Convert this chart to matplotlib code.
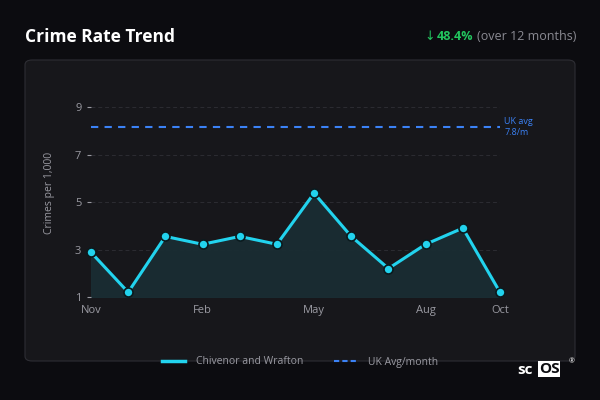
import matplotlib
matplotlib.use("Agg")
import matplotlib.pyplot as plt
from matplotlib.patches import FancyBboxPatch
from matplotlib.lines import Line2D

plt.rcParams['font.family'] = ['Open Sans', 'DejaVu Sans']

months = ["Nov", "Dec", "Jan", "Feb", "Mar", "Apr", "May", "Jun", "Jul", "Aug", "Sep", "Oct"]
rate = [2.88, 1.2, 3.55, 3.22, 3.55, 3.22, 5.37, 3.55, 2.2, 3.22, 3.9, 1.2]
uk_avg = 8.15
shown_ticks = ["Nov", "Feb", "May", "Aug", "Oct"]
y_ticks = [1, 3, 5, 7, 9]

bg = "#0c0c10"
card = "#17171b"
grey = "#9a9aa2"
cyan = "#22d3ee"
blue = "#3b82f6"

fig = plt.figure(figsize=(6, 4), dpi=100, facecolor=bg)

# card background
panel = FancyBboxPatch((25 / 600, 1 - 361 / 400), 550 / 600, 301 / 400,
                       boxstyle="round,pad=0,rounding_size=0.012",
                       transform=fig.transFigure, facecolor=card,
                       edgecolor="#2e2e34", linewidth=0.8, zorder=-5)
fig.patches.append(panel)

ax = fig.add_axes([91 / 600, 1 - 297 / 400, 409 / 600, 209 / 400])
ax.set_facecolor("none")
x = list(range(len(months)))

ax.fill_between(x, rate, 1, color="#1a2d33", alpha=0.95, zorder=1)
ax.plot(x, rate, color=cyan, linewidth=2.2, zorder=3,
        marker="o", markersize=6.5, markerfacecolor=cyan,
        markeredgecolor="#0b1a1e", markeredgewidth=1.2, clip_on=False)
ax.plot([x[0], x[-1]], [uk_avg, uk_avg], color=blue, linewidth=1.5,
        linestyle=(0, (3.5, 3)), zorder=2)
ax.text(x[-1] + 0.12, uk_avg, "UK avg\n7.8/m", color=blue, fontsize=6.5,
        va="center", ha="left", linespacing=1.2)

ax.set_xlim(x[0], x[-1])
ax.set_ylim(1, 9.8)
ax.set_yticks(y_ticks)
ax.set_xticks([months.index(m) for m in shown_ticks])
ax.set_xticklabels(shown_ticks)
for yv in y_ticks:
    ax.axhline(yv, color="#2c2c32", linewidth=0.7, linestyle=(0, (4, 3)), zorder=0)

ax.tick_params(axis="y", colors=grey, labelsize=8, length=3, width=0.8, pad=4)
ax.tick_params(axis="x", colors=grey, labelsize=8, length=0, pad=6)
for s in ax.spines.values():
    s.set_visible(False)
ax.set_ylabel("Crimes per 1,000", color=grey, fontsize=7.5, labelpad=14)

# header
fig.text(25 / 600, 1 - 37 / 400, "Crime Rate Trend", color="white",
         fontsize=12.5, fontweight="bold", va="center", ha="left")
t2 = fig.text(576 / 600, 1 - 37 / 400, "(over 12 months)", color="#8a8a92",
              fontsize=9, va="center", ha="right")
fig.canvas.draw()
bb = t2.get_window_extent()
t1 = fig.text((bb.x0 - 3) / 600, 1 - 37 / 400, "48.4%", color="#22c55e",
              fontsize=9, fontweight="bold", va="center", ha="right")
bb1 = t1.get_window_extent(fig.canvas.get_renderer())
fig.text((bb1.x0 - 2) / 600, 1 - 37 / 400, "\u2193", color="#22c55e",
         fontsize=9, va="center", ha="right")

# legend
handles = [Line2D([], [], color=cyan, linewidth=2.5),
           Line2D([], [], color=blue, linewidth=1.5, linestyle=(0, (2.5, 1.5)))]
leg = fig.legend(handles, ["Chivenor and Wrafton", "UK Avg/month"],
                 loc="center", bbox_to_anchor=(300 / 600, 1 - 362 / 400),
                 ncol=2, frameon=False, fontsize=7.5, labelcolor=grey,
                 handlelength=2.2, columnspacing=3, handletextpad=1)

# logo
fig.text(517 / 600, 1 - 370 / 400, "sc", color="white", fontsize=11,
         fontweight="bold", va="center", ha="left")
fig.text(539 / 600, 1 - 369 / 400, "OS", color="#0c0c10", fontsize=11,
         fontweight="bold", va="center", ha="left",
         bbox=dict(boxstyle="square,pad=0.05", facecolor="white", edgecolor="none"))
fig.text(569 / 600, 1 - 362 / 400, "\u00ae", color="white", fontsize=5,
         va="center", ha="left")

fig.savefig("out.png", dpi=100, facecolor=bg)
